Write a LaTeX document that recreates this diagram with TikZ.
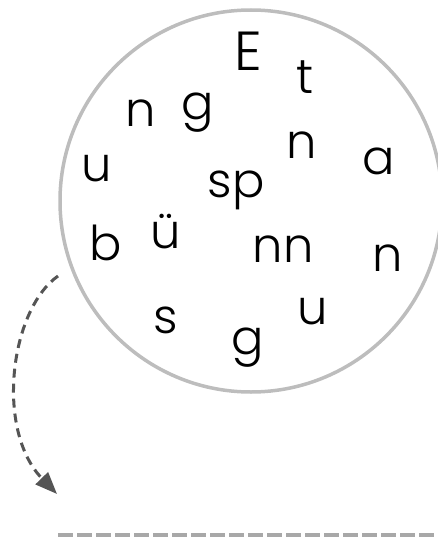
\documentclass[tikz,border=0pt]{standalone}
\usepackage{fontspec}
\setmainfont{Poppins}[UprightFont=* Light]
\usetikzlibrary{arrows.meta, positioning}
\definecolor{ringgray}{HTML}{BDBDBD}
\definecolor{arrowgray}{HTML}{555555}
\definecolor{linegray}{HTML}{A8A8A8}
\tikzset{
	letter/.style={anchor=base, inner sep=0pt, font=\fontsize{48}{48}\selectfont}
}
\tikzset{
	ring/.style={draw=ringgray, line width=3.5pt}
}

\begin{document}
\begin{tikzpicture}[x=1pt, y=-1pt]
      \useasboundingbox (0,0) rectangle (437,540);

      % the letter cloud
      \node[ring, circle, minimum size=382pt, inner sep=0pt] (cloud) at (251,201) {};

      % scattered letters: x / baseline / text / name
      \node[letter, font=\fontsize{55}{55}\selectfont] (E) at (248,71) {E};
      \foreach \x/\y/\t/\n in {305/94/t/t, 141/127/n/n1, 198/120/g/g1,
          302/159/n/n2, 379/175/a/a, 97/182/u/u1, 236/197/sp/sp,
          106/260/b/b, 166/248/ü/ue, 283/262/nn/nn, 388/271/n/n3,
          313/324/u/u2, 166/333/s/s, 248/354/g/g2} {
        \node[letter] (\n) at (\x,\y) {\t};
      }

      % arrow down to the answer line
      \coordinate (from) at (58,276);
      \coordinate (to) at (57,494);
      \draw[arrowgray, line width=3pt, dash pattern=on 9pt off 6pt,
            -{Triangle[length=22pt, width=17pt]}]
        (from) .. controls (10,310) and (-5,430) .. (to);

      % answer line
      \coordinate (lineL) at (58,535);
      \coordinate (lineR) at (437,535);
      \draw[linegray, line width=3.5pt, dash pattern=on 15pt off 4pt] (lineL) -- (lineR);
    \end{tikzpicture}
\end{document}
